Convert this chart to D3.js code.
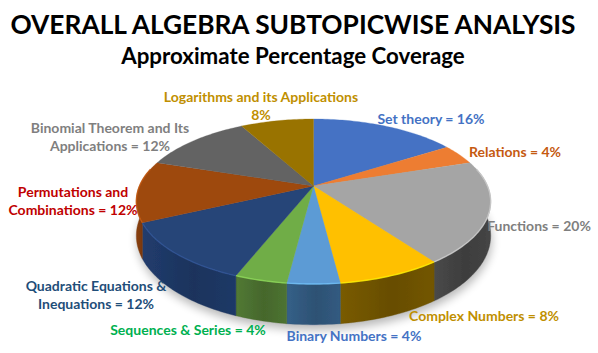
<!DOCTYPE html>
<html>
<head>
<meta charset="utf-8">
<script src="https://cdn.jsdelivr.net/npm/d3@7"></script>
<style>
  html, body { margin: 0; padding: 0; background: #fff; }
  text { font-family: Lato, "Open Sans", sans-serif; font-weight: 700; }
</style>
</head>
<body>
<div id="pie"></div>
<script>
const titleText = "OVERALL ALGEBRA SUBTOPICWISE ANALYSIS";
const subtitleText = "Approximate Percentage Coverage";

const topics = ["Set theory", "Relations", "Functions", "Complex Numbers", "Binary Numbers",
  "Sequences & Series", "Quadratic Equations & Inequations", "Permutations and Combinations",
  "Binomial Theorem and Its Applications", "Logarithms and its Applications"];
const shares = [16, 4, 20, 8, 4, 4, 12, 12, 12, 8];
const labelLines = [
  ["Set theory = 16%"],
  ["Relations = 4%"],
  ["Functions = 20%"],
  ["Complex Numbers = 8%"],
  ["Binary Numbers = 4%"],
  ["Sequences & Series = 4%"],
  ["Quadratic Equations &", "Inequations = 12%"],
  ["Permutations and", "Combinations = 12%"],
  ["Binomial Theorem and Its", "Applications = 12%"],
  ["Logarithms and its Applications", "8%"]
];

const topColors = ["#4472c4", "#ed7d31", "#a5a5a5", "#ffc000", "#5b9bd5", "#70ad47", "#264478", "#9e480e", "#636363", "#997300"];
const sideColors = ["#2c4a80", "#9a5120", "#404040", "#6b5000", "#2f5578", "#486b2e", "#1d3560", "#7a380b", "#404040", "#5f4800"];
const textColors = ["#4472c4", "#c55a11", "#7f7f7f", "#bf8f00", "#4472c4", "#00b050", "#1f4e79", "#c00000", "#7f7f7f", "#bf8f00"];

// label anchor: centre x, first baseline
const labelAnchors = [[431, 124], [515, 157], [539, 231], [484, 321], [354, 341], [188, 335], [96, 291], [73, 197], [110, 133], [261, 102]];

const width = 598, height = 353;
const cx = 313.5, cy = 186;   // where the slices meet on screen
const radius = 174, tilt = 79.6, persp = 0.188, depth = 33;

const svg = d3.select("#pie").append("svg")
  .attr("width", width)
  .attr("height", height)
  .style("display", "block");

const defs = svg.append("defs");
defs.append("filter").attr("id", "soft").attr("x", "-20%").attr("y", "-20%").attr("width", "140%").attr("height", "140%")
  .append("feGaussianBlur").attr("stdDeviation", 5);
defs.append("filter").attr("id", "scan").attr("x", "-5%").attr("y", "-5%").attr("width", "110%").attr("height", "110%")
  .append("feGaussianBlur").attr("stdDeviation", 0.45);

svg.append("text")
  .attr("x", 293)
  .attr("y", 34)
  .attr("text-anchor", "middle")
  .attr("font-size", 26.3)
  .attr("fill", "#000")
  .text(titleText);

svg.append("text")
  .attr("x", 293)
  .attr("y", 63.5)
  .attr("text-anchor", "middle")
  .attr("font-size", 22.3)
  .attr("fill", "#000")
  .text(subtitleText);

// disc seen in perspective: angle is clockwise from the top, z is how far below the top face
function project(angle, z) {
  const u = Math.sin(angle), v = -Math.cos(angle);
  const s = 1 / (1 - persp * v);
  return [cx + radius * u * s, cy + (tilt * v + depth * z) * s];
}

function arcPoints(a0, a1, z) {
  const n = Math.max(2, Math.ceil((a1 - a0) / 0.02));
  return d3.range(n + 1).map(i => project(a0 + (a1 - a0) * i / n, z));
}

const line = d3.line();
const arcs = d3.pie().sort(null).value(d => d)(shares);
const rimFrom = 1.35, rimTo = 2 * Math.PI - 1.35;  // only this part of the rim faces the viewer

const scene = svg.append("g").attr("filter", "url(#scan)");

scene.append("path")
  .attr("d", line(arcPoints(0, 2 * Math.PI, 1.08)) + "Z")
  .attr("transform", "translate(1,2)")
  .attr("fill", "#000")
  .attr("opacity", 0.28)
  .attr("filter", "url(#soft)");

arcs.forEach((d, i) => {
  const a0 = Math.max(d.startAngle, rimFrom), a1 = Math.min(d.endAngle, rimTo);
  if (a1 <= a0) return;

  const side = d3.color(sideColors[i]);
  const grad = defs.append("linearGradient").attr("id", "side" + i);
  grad.append("stop").attr("offset", "0%").attr("stop-color", side.brighter(0.35));
  grad.append("stop").attr("offset", "55%").attr("stop-color", side.darker(0.12));
  grad.append("stop").attr("offset", "100%").attr("stop-color", side.brighter(0.2));

  const outline = arcPoints(a0, a1, 0).concat(arcPoints(a0, a1, 1).reverse());
  scene.append("path")
    .attr("d", line(outline) + "Z")
    .attr("fill", `url(#side${i})`)
    .attr("stroke", side)
    .attr("stroke-width", 0.4);
});

arcs.forEach((d, i) => {
  const outline = [[cx, cy]].concat(arcPoints(d.startAngle, d.endAngle, 0));
  scene.append("path")
    .attr("d", line(outline) + "Z")
    .attr("fill", topColors[i])
    .attr("stroke", topColors[i])
    .attr("stroke-width", 0.3);
});

// light bevel along the front edge of the top face
arcs.forEach((d, i) => {
  const a0 = Math.max(d.startAngle, rimFrom), a1 = Math.min(d.endAngle, rimTo);
  if (a1 <= a0) return;
  scene.append("path")
    .attr("d", line(arcPoints(a0, a1, 0)))
    .attr("fill", "none")
    .attr("stroke", d3.color(topColors[i]).brighter(0.7))
    .attr("stroke-width", 1.4)
    .attr("opacity", 0.75);
});

const labels = svg.append("g")
  .attr("font-size", 14)
  .attr("text-anchor", "middle");

labelLines.forEach((rows, i) => {
  const [x, y] = labelAnchors[i];
  rows.forEach((row, j) => {
    labels.append("text")
      .attr("x", x)
      .attr("y", y + j * 18)
      .attr("fill", textColors[i])
      .text(row);
  });
});
</script>
</body>
</html>
